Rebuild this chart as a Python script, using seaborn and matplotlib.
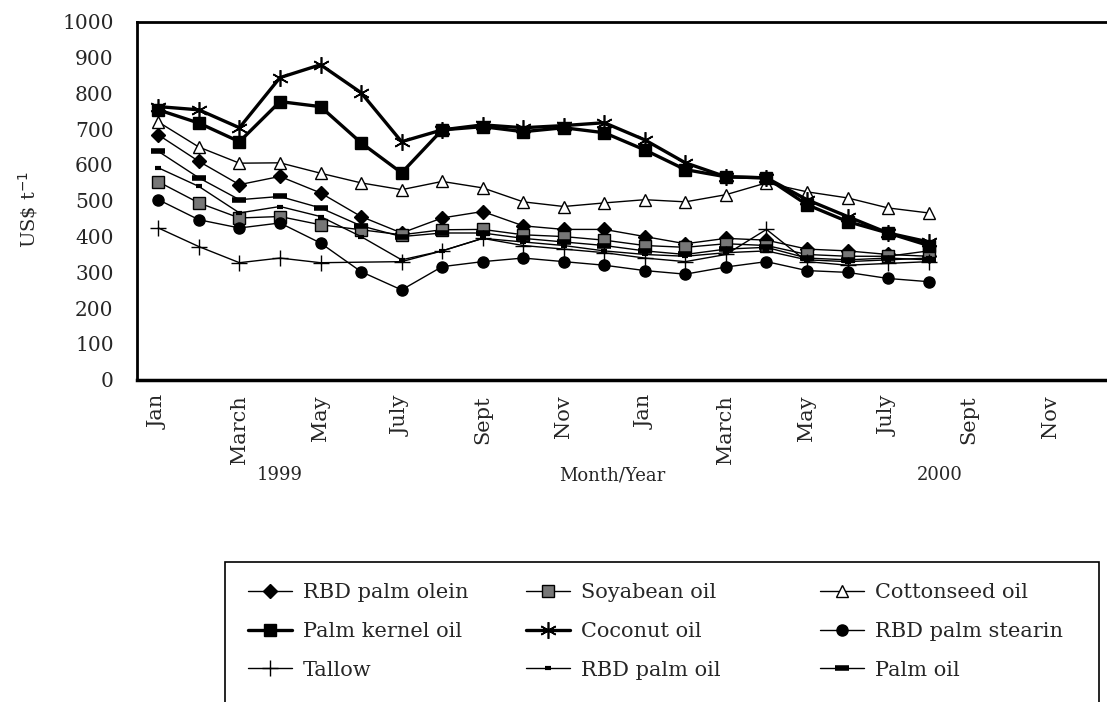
import numpy as np
import pandas as pd
import seaborn as sns
import matplotlib.pyplot as plt
from matplotlib.lines import Line2D
from matplotlib.patches import Rectangle

# monthly prices, Jan 1999 .. Aug 2000 (US$ per tonne)
months = list(range(20))
palm_olein = [684, 610, 545, 568, 522, 456, 410, 452, 470, 430, 420, 420, 400, 380, 395, 390, 365, 360, 350, 345]
soyabean = [553, 494, 452, 456, 433, 419, 405, 419, 420, 405, 400, 390, 375, 370, 380, 375, 350, 345, 345, 360]
cottonseed = [720, 650, 605, 606, 577, 550, 531, 554, 536, 497, 484, 494, 503, 497, 517, 550, 525, 508, 480, 466]
palm_kernel = [754, 717, 665, 777, 763, 662, 578, 698, 707, 693, 704, 690, 642, 587, 567, 564, 489, 442, 410, 375]
coconut = [763, 754, 704, 844, 880, 802, 665, 698, 712, 704, 710, 718, 670, 606, 567, 564, 503, 456, 410, 385]
stearin = [503, 447, 424, 438, 382, 302, 251, 316, 330, 340, 330, 320, 305, 295, 315, 330, 305, 300, 283, 274]
tallow = [424, 372, 327, 340, 327, np.nan, 330, 360, 395, 375, 365, 355, 340, 330, 350, 420, 330, 320, 325, 330]
rbd_palm_oil = [592, 540, 466, 484, 456, 400, 335, 360, 395, 385, 375, 360, 350, 345, 355, 360, 335, 330, 335, 340]
palm_oil = [638, 564, 503, 512, 480, 430, 400, 410, 410, 395, 385, 375, 360, 350, 365, 370, 340, 335, 340, 335]

tick_labels = ['Jan', 'March', 'May', 'July', 'Sept', 'Nov'] * 2

sns.set_style('white')
plt.rcParams['font.family'] = ['DejaVu Serif']

# name, values, marker, marker size, face colour, line width, marker edge width
series = [
    ('RBD palm olein', palm_olein, 'D', 7, 'black', 1.0, 1),
    ('Soyabean oil', soyabean, 's', 8, '#777777', 1.0, 1),
    ('Cottonseed oil', cottonseed, '^', 8, 'white', 1.0, 1),
    ('Palm kernel oil', palm_kernel, 's', 9, 'black', 2.4, 1),
    ('Coconut oil', coconut, (6, 2, 0), 12, 'black', 2.4, 1.2),
    ('RBD palm stearin', stearin, 'o', 8, 'black', 1.0, 1),
    ('Tallow', tallow, '+', 12, 'black', 1.0, 1),
    ('RBD palm oil', rbd_palm_oil, '_', 5, 'black', 1.0, 3),
    ('Palm oil', palm_oil, '_', 10, 'black', 1.0, 4),
]

fig = plt.figure(figsize=(11.07, 7.02), dpi=100)
ax = fig.add_axes([0.124, 0.459, 0.876, 0.51])

handles = {}
for name, vals, mk, ms, fc, lw, mew in series:
    df = pd.DataFrame({'month': months, 'price': vals})
    sns.lineplot(data=df, x='month', y='price', ax=ax, color='black', lw=lw,
                 marker=mk, markersize=ms, markerfacecolor=fc,
                 markeredgecolor='black', markeredgewidth=mew,
                 estimator=None, sort=False)
    handles[name] = Line2D([], [], color='black', lw=lw, marker=mk, markersize=ms,
                           markerfacecolor=fc, markeredgecolor='black',
                           markeredgewidth=mew)

ax.set_xlim(-0.52, 23.4)
ax.set_ylim(0, 1000)
ax.set_xticks(range(24))
ax.set_xticklabels([l for t in tick_labels for l in (t, '')], rotation=90, fontsize=15)
ax.set_yticks(range(0, 1001, 100))
ax.tick_params(axis='y', length=0, pad=17, labelsize=14.5)
ax.tick_params(axis='x', direction='inout', length=12, width=1, pad=5)
ax.set_xlabel('')
ax.set_ylabel('')

for side in ['left', 'bottom', 'top']:
    ax.spines[side].set_color('black')
ax.spines['left'].set_linewidth(2)
ax.spines['bottom'].set_linewidth(2.5)
ax.spines['top'].set_linewidth(2)
ax.spines['right'].set_visible(False)

fig.text(0.025, 0.702, r'US\$ t$^{-1}$', rotation=90, ha='center', va='center', fontsize=14)
fig.text(0.253, 0.323, '1999', ha='center', va='center', fontsize=13)
fig.text(0.553, 0.323, 'Month/Year', ha='center', va='center', fontsize=13)
fig.text(0.849, 0.323, '2000', ha='center', va='center', fontsize=13)

# legend box runs off the bottom of the page
fig.patches.append(Rectangle((0.203, -0.05), 0.79, 0.249, transform=fig.transFigure,
                             fill=False, edgecolor='black', lw=1.2))

columns = [
    (0.224, ['RBD palm olein', 'Palm kernel oil', 'Tallow']),
    (0.475, ['Soyabean oil', 'Coconut oil', 'RBD palm oil']),
    (0.741, ['Cottonseed oil', 'RBD palm stearin', 'Palm oil']),
]
for x0, names in columns:
    fig.legend([handles[n] for n in names], names, loc='upper left',
               bbox_to_anchor=(x0, 0.1695), frameon=False,
               prop={'family': 'DejaVu Serif', 'size': 15},
               handlelength=2.1, handletextpad=0.55, labelspacing=0.95,
               borderpad=0, borderaxespad=0)

fig.savefig('out.png', dpi=100)
